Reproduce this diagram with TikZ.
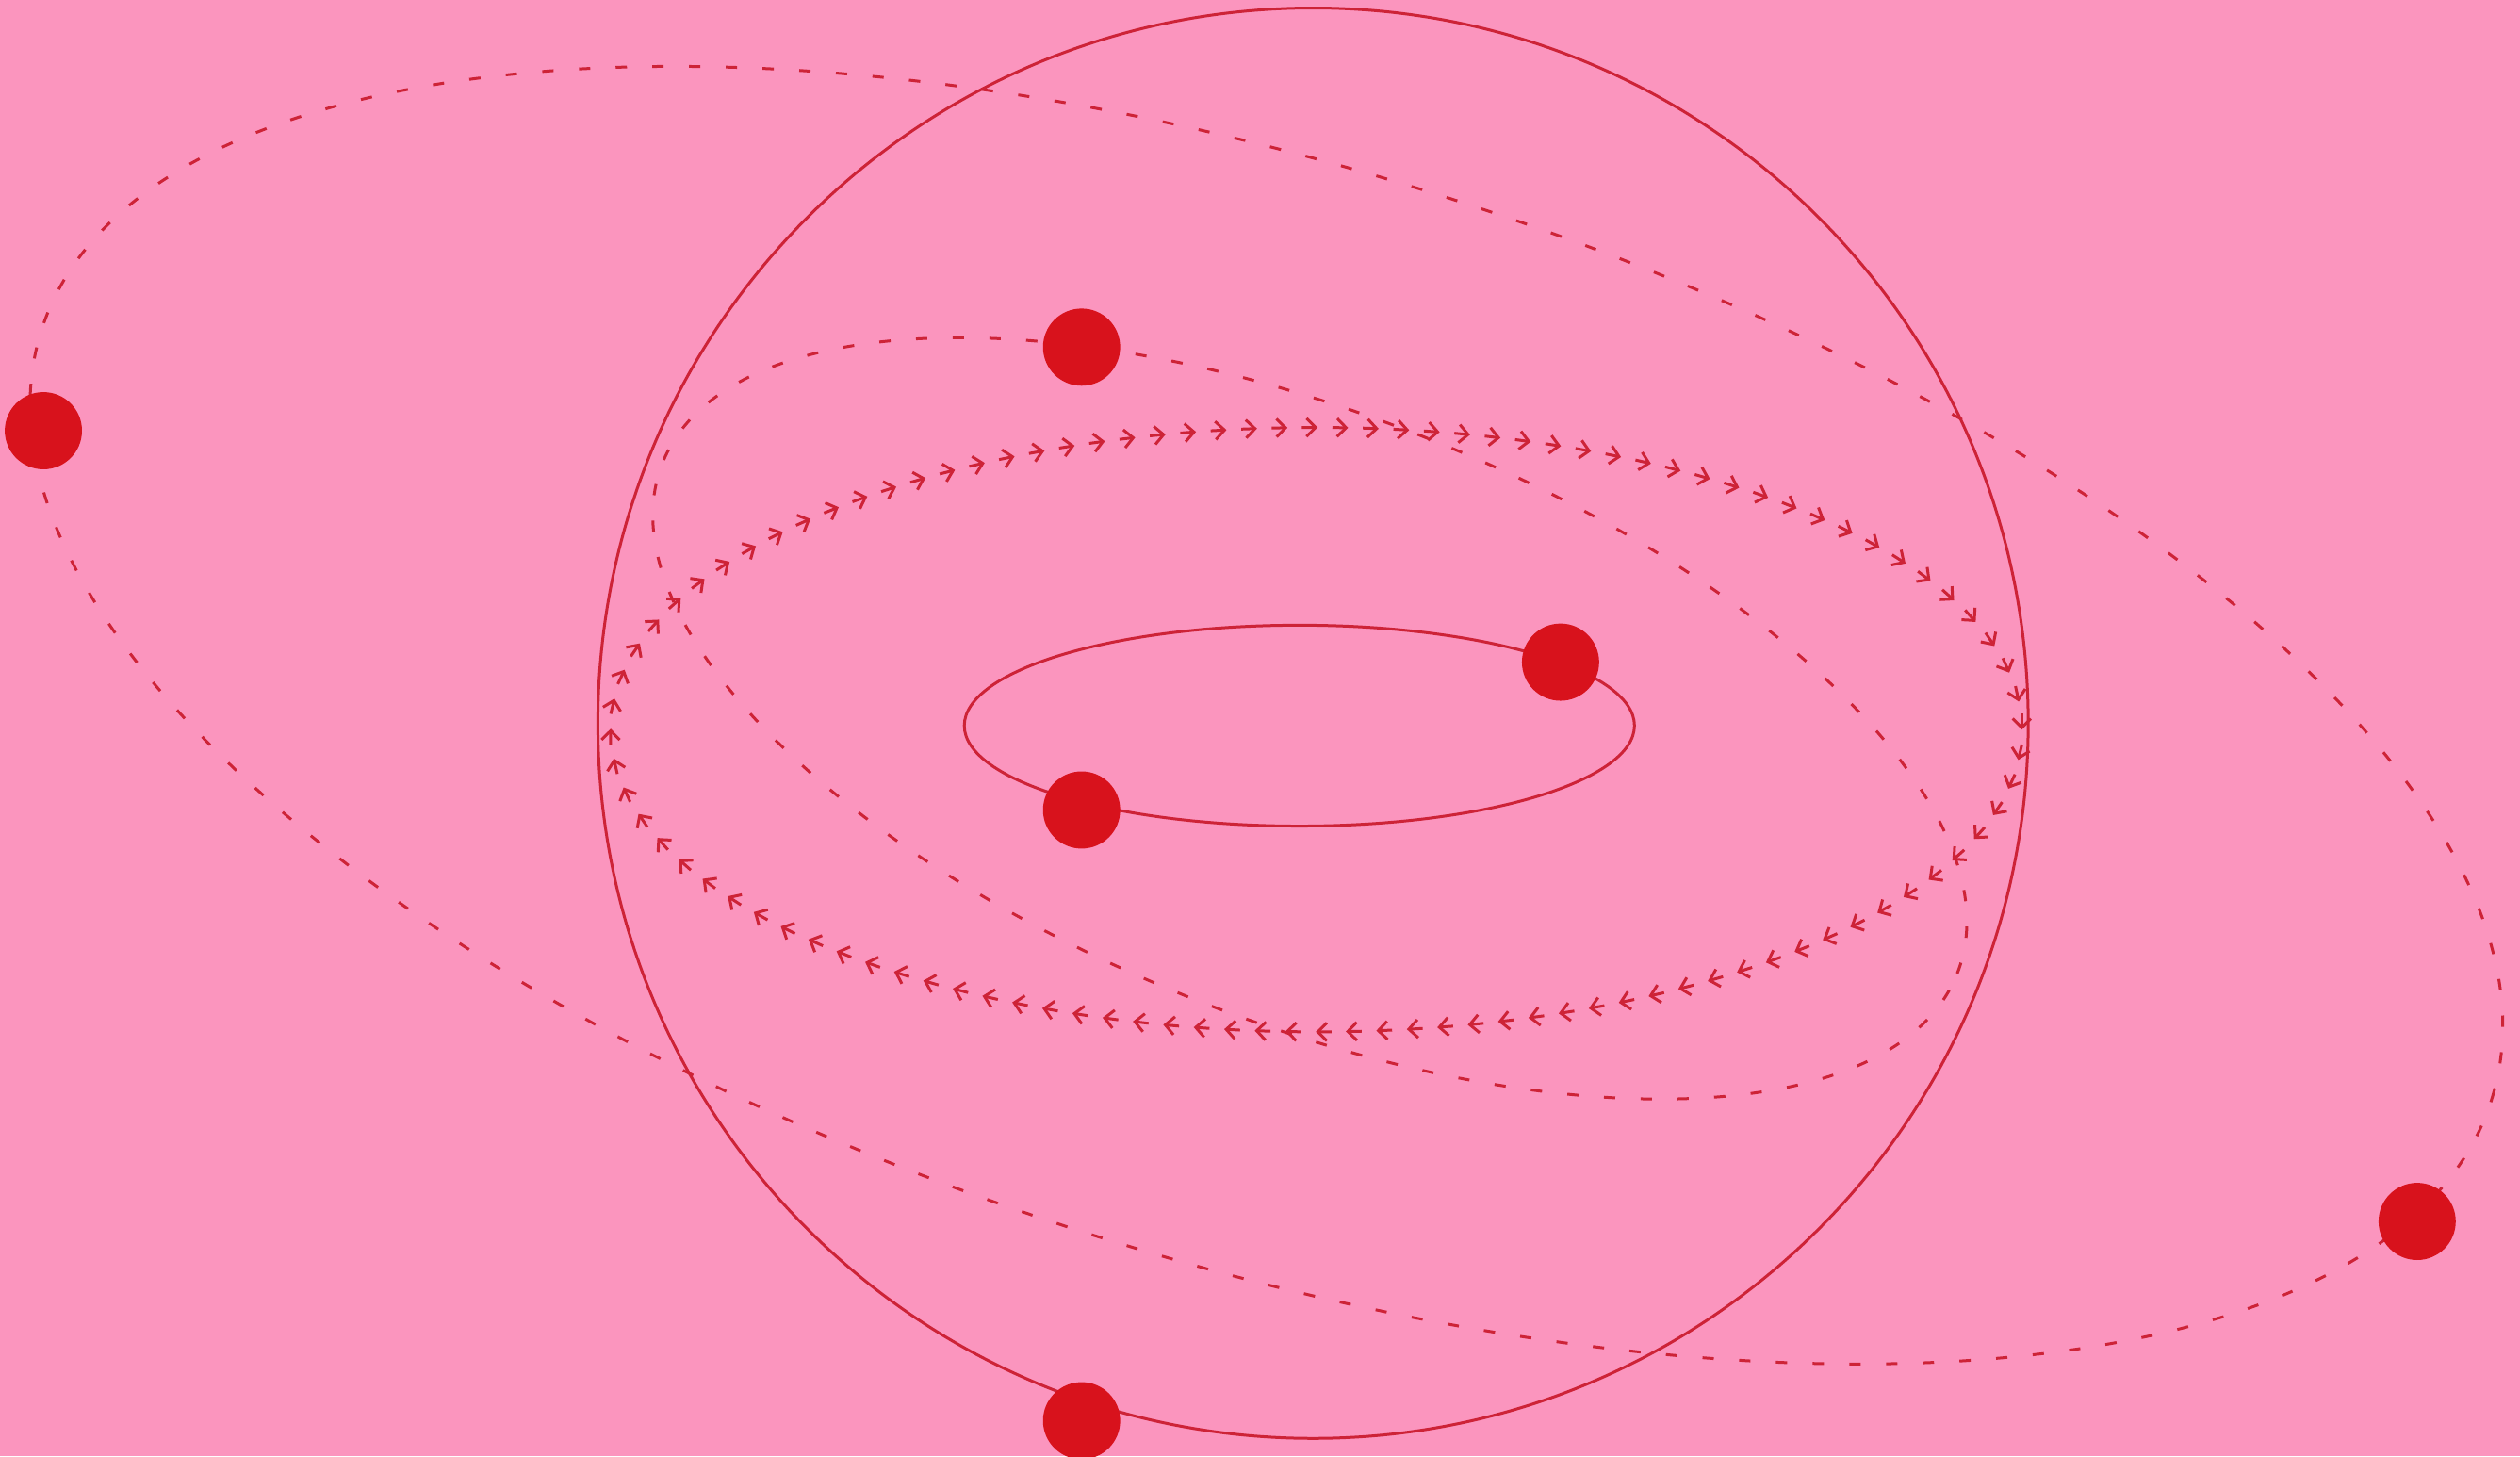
\documentclass[tikz,border=0pt]{standalone}
\usetikzlibrary{arrows.meta,decorations.markings}
\definecolor{bgpink}{RGB}{251,149,190}
\definecolor{dotred}{RGB}{216,18,28}
\definecolor{linered}{RGB}{205,35,55}
\begin{document}
\begin{tikzpicture}[x=0.01cm,y=0.01cm,line width=0.5pt,
    orbit/.style={draw=linered},
    dashed orbit/.style={draw=linered,dash pattern=on 2pt off 4.5pt},
    arrow orbit/.style={postaction={decorate},decoration={markings,
        mark=between positions 0 and 1 step 5.4pt with {\draw[linered,-{Straight Barb[length=1.6pt,width=3.2pt]}] (-2.8pt,0) -- (0,0);}}},
    main node/.style={circle,fill=dotred,inner sep=0pt,minimum size=0.48cm}]
            \fill[bgpink] (0,0) rectangle (1568,906);
            \useasboundingbox (0,0) rectangle (1568,906);

            \draw[orbit] (817,456) circle[radius=445];
            \draw[orbit] (808.5,454.5) ellipse[x radius=208.5, y radius=62.5];
            \draw[dashed orbit, rotate around={-21.5:(815,459)}] (815,459) ellipse[x radius=433, y radius=189];
            \draw[dashed orbit, rotate around={-17.4:(788,461)}] (788,461) ellipse[x radius=799, y radius=341];
            \path[arrow orbit] (819,452) ++(439,0) arc[start angle=0, end angle=-360, x radius=439, y radius=188];

            \node[main node] (1) at (27,638) {};
            \node[main node] (2) at (1504,146) {};
            \node[main node] (3) at (673,690) {};
            \node[main node] (4) at (971,494) {};
            \node[main node] (5) at (673,402) {};
            \node[main node] (6) at (673,22) {};
        \end{tikzpicture}
\end{document}
